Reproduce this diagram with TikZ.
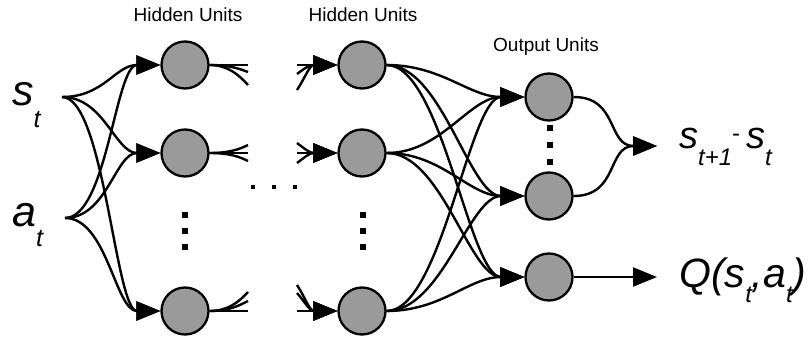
\documentclass[tikz,border=0pt]{standalone}
\usepackage{fontspec}
\setmainfont{Liberation Sans}
\usetikzlibrary{arrows.meta}
\definecolor{unitgray}{HTML}{9A9A9A}
\begin{document}
\begin{tikzpicture}[x=1pt,y=-1pt,
  unit/.style={circle,draw=black,fill=unitgray,line width=2.3pt,minimum size=47pt,inner sep=0pt},
  conn/.style={line width=2.4pt},
  arr/.style={conn,-{Triangle[length=24pt,width=19pt]}},
  dotsq/.style={fill=black,minimum size=6pt,inner sep=0pt},
  hdot/.style={fill=black,minimum size=4pt,inner sep=0pt},
  hdr/.style={anchor=base,font=\fontsize{19}{21}\selectfont},
]
\useasboundingbox[fill=white] (0,0) rectangle (810,339);

% headers
\node[hdr] (lh1) at (188,22) {Hidden Units};
\node[hdr] (lh2) at (363,22) {Hidden Units};
\node[hdr] (lo)  at (546,52) {Output Units};

% input labels
\node[anchor=base west,inner sep=0pt] (ls) at (12,106)
  {{\fontsize{43}{43}\selectfont\itshape s}\raisebox{-22pt}{\fontsize{25}{25}\selectfont\itshape t}};
\node[anchor=base west,inner sep=0pt] (la) at (12,226)
  {{\fontsize{43}{43}\selectfont\itshape a}\raisebox{-20pt}{\fontsize{25}{25}\selectfont\itshape t}};
\coordinate (s) at (62,97);
\coordinate (a) at (65,218);

% units
\node[unit] (h11) at (185,65) {};
\node[unit] (h12) at (185,153) {};
\node[unit] (h13) at (185,311) {};
\node[unit] (h21) at (362,65) {};
\node[unit] (h22) at (362,153) {};
\node[unit] (h23) at (362,311) {};
\node[unit] (o1) at (549,97) {};
\node[unit] (o2) at (549,196) {};
\node[unit] (o3) at (549,277) {};

% input connections
\foreach \src in {s,a}
  \foreach \dst in {h11,h12,h13}
    \draw[arr] (\src) .. controls +(42,0) and +(-45,0) .. (\dst.west);

% stubs leaving first hidden column
\coordinate (o11a) at (248,65);  \coordinate (o11b) at (248,72);  \coordinate (o11c) at (248,85);
\coordinate (o12a) at (248,145); \coordinate (o12b) at (248,153); \coordinate (o12c) at (248,161);
\coordinate (o13a) at (248,292); \coordinate (o13b) at (248,301); \coordinate (o13c) at (248,311);
\draw[conn] (h11.east) -- (o11a);
\draw[conn] (h11.east) .. controls +(20,0) and +(-8,-3) .. (o11b);
\draw[conn] (h11.east) .. controls +(18,0) and +(-9,-10) .. (o11c);
\draw[conn] (h12.east) .. controls +(20,0) and +(-8,4) .. (o12a);
\draw[conn] (h12.east) -- (o12b);
\draw[conn] (h12.east) .. controls +(20,0) and +(-8,-4) .. (o12c);
\draw[conn] (h13.east) .. controls +(18,0) and +(-9,10) .. (o13a);
\draw[conn] (h13.east) .. controls +(20,0) and +(-8,4) .. (o13b);
\draw[conn] (h13.east) -- (o13c);

% stubs entering second hidden column
\coordinate (i21a) at (297,65);  \coordinate (i21b) at (297,74);  \coordinate (i21c) at (297,90);
\coordinate (i22a) at (297,143); \coordinate (i22b) at (297,153); \coordinate (i22c) at (297,163);
\coordinate (i23a) at (297,285); \coordinate (i23b) at (297,293); \coordinate (i23c) at (297,311);
\draw[arr] (i21a) -- (h21.west);
\draw[arr] (i21b) .. controls +(8,-6) and +(-28,0) .. (h21.west);
\draw[arr] (i21c) .. controls +(8,-12) and +(-28,0) .. (h21.west);
\draw[arr] (i22a) .. controls +(8,6) and +(-28,0) .. (h22.west);
\draw[arr] (i22b) -- (h22.west);
\draw[arr] (i22c) .. controls +(8,-6) and +(-28,0) .. (h22.west);
\draw[arr] (i23a) .. controls +(8,12) and +(-28,0) .. (h23.west);
\draw[arr] (i23b) .. controls +(8,9) and +(-28,0) .. (h23.west);
\draw[arr] (i23c) -- (h23.west);

% second hidden column to outputs
\foreach \src in {h21,h22,h23}
  \foreach \dst in {o1,o2,o3}
    \draw[arr] (\src.east) .. controls +(55,0) and +(-55,0) .. (\dst.west);

% outputs
\coordinate (sout) at (657,146);
\coordinate (qout) at (657,277);
\draw[arr] (o1.east) .. controls +(45,0) and +(-50,0) .. (sout);
\draw[arr] (o2.east) .. controls +(45,0) and +(-50,0) .. (sout);
\draw[arr] (o3.east) -- (qout);

\node[anchor=base west,inner sep=0pt] (ld) at (679,149)
  {{\fontsize{38}{38}\selectfont\itshape s}\raisebox{-17pt}{\fontsize{24}{24}\selectfont\itshape t+1}\raisebox{7pt}{\fontsize{24}{24}\selectfont -}\kern6pt{\fontsize{38}{38}\selectfont\itshape s}\raisebox{-17pt}{\fontsize{24}{24}\selectfont\itshape t}};
\node[anchor=base west,inner sep=0pt] (lq) at (679,287)
  {{\fontsize{41}{41}\selectfont\itshape Q(s}\raisebox{-15pt}{\fontsize{24}{24}\selectfont\itshape t}{\fontsize{41}{41}\selectfont\itshape ,a}\raisebox{-15pt}{\fontsize{24}{24}\selectfont\itshape t}{\fontsize{41}{41}\selectfont\itshape )}};

% ellipsis dots
\foreach \i/\y in {1/215,2/231,3/247} {
  \node[dotsq] (va\i) at (185,\y) {};
  \node[dotsq] (vb\i) at (363,\y) {};
}
\foreach \i/\y in {1/128,2/145,3/162}
  \node[dotsq] (vc\i) at (550,\y) {};
\foreach \i/\x in {1/253,2/274,3/295}
  \node[hdot] (hd\i) at (\x,187) {};
\end{tikzpicture}
\end{document}
